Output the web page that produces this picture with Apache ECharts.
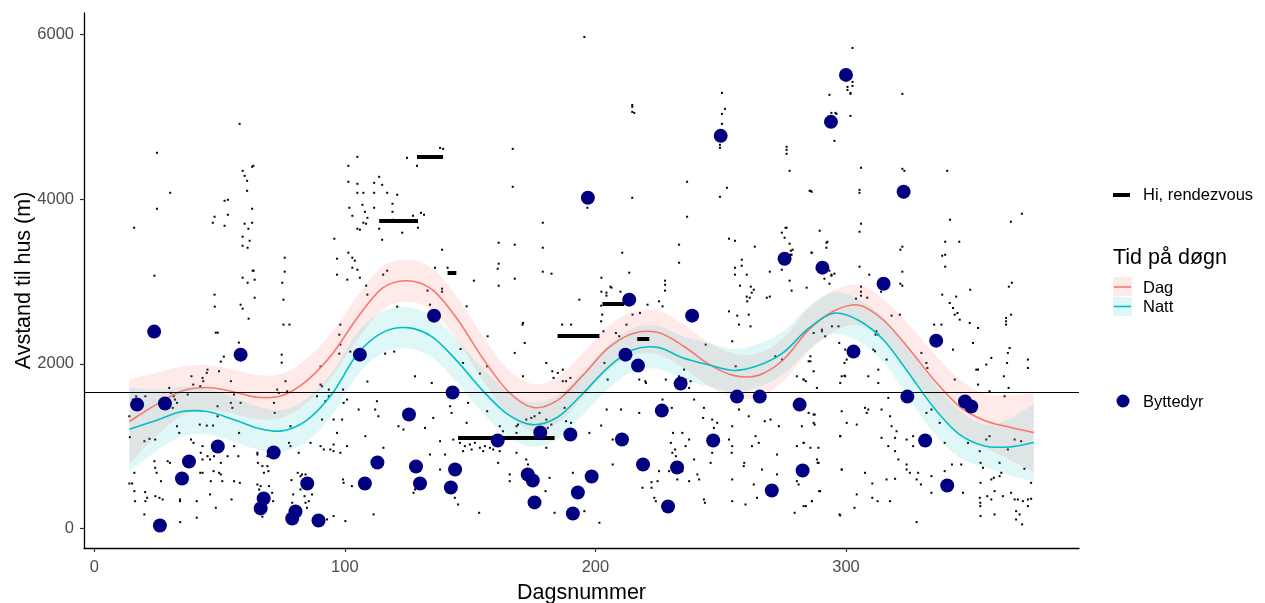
<!DOCTYPE html>
<html><head><meta charset="utf-8">
<script src="https://cdn.jsdelivr.net/npm/echarts@6/dist/echarts.min.js"></script>
<style>html,body{margin:0;padding:0;background:#fff}#c{width:1265px;height:603px}</style>
</head><body><div id="c"></div>
<script>
const xTicks = [0, 100, 200, 300];
const yTicks = [0, 2000, 4000, 6000];
const refLineY = 1650;

const smoothX  = [14,25,35,45,55,65,75,85,95,105,115,125,135,145,155,165,175,185,195,205,215,225,235,245,255,265,275,285,295,305,315,325,335,345,355,365,375];
const dagY     = [1300,1510,1670,1712,1665,1595,1615,1800,2120,2560,2920,3010,2900,2540,2070,1670,1470,1560,1860,2190,2370,2380,2220,2000,1860,1860,2050,2410,2640,2715,2530,2190,1810,1490,1315,1232,1165];
const nattY    = [1205,1315,1420,1420,1330,1220,1185,1320,1640,2120,2380,2440,2325,2027,1675,1386,1261,1354,1640,1955,2170,2200,2070,1990,1920,1980,2137,2430,2615,2530,2290,1890,1470,1150,1005,990,1045];
const dagHalf  = [515,380,300,275,268,268,268,268,268,268,262,255,255,262,268,270,285,280,268,265,265,265,265,265,265,265,265,262,250,245,255,290,320,330,325,390,478];
const nattHalf = [510,370,300,280,268,262,255,262,262,262,255,250,255,262,268,270,270,265,262,262,262,262,262,262,262,262,262,262,255,255,270,300,310,285,260,340,475];

// rendezvous segments: [xStart, xEnd, y]
const rendezvous = [[113.7,129.2,3740],[128.8,139.2,4515],[141,144.5,3105],[145.2,183.7,1100],[184.9,201.6,2340],[202.8,211.5,2730],[216.7,221.5,2305]];

const byttedyr = [[17.1,1505],[23.9,2392],[26.2,36],[28.2,1518],[35,607],[37.8,813],[49.3,995],[58.4,2112],[66.4,243],[67.6,364],[71.6,923],[79,121],[80.3,206],[85,546],[89.5,97],[106,2112],[108,546],[113,801],[125.6,1384],[128.4,753],[130,546],[135.6,2586],[142.3,498],[143,1651],[144,716],[161,1068],[173,656],[175,583],[175.7,316],[178,1165],[190,1141],[191,182],[193,437],[198.5,631],[197,4018],[210.6,1080],[213.5,2780],[212,2112],[217,1979],[219,777],[226.5,1432],[229,267],[232.6,740],[234,1760],[238.6,2586],[247,1068],[250,4771],[256.5,1602],[265.6,1602],[270.4,461],[275.5,3278],[281.5,1505],[282.7,704],[290.6,3169],[300,5512],[294,4941],[323,4091],[315,2974],[303,2149],[324.5,1602],[331.6,1068],[336,2282],[340.4,522],[347.5,1542],[350,1481]];

const dots = [
[15.9,3654],[25,4565],[30.3,4079],[25,3885],[24,3071],[48,2841],[58,4917],
[47.3,3715],[48,3788],[52,3678],[53.3,3812],[53.3,3994],[52,3982],
[59.2,4346],[60,4285],[61,4225],[63,4395],[63.5,4407],[61,4103],[63,3885],[60,3703],[61.5,3642],[63,3715],[59.2,3545],[62,3496],[61.2,3411],[59.2,3436],
[63.2,3132],[64,3023],[61.2,2986],[59.2,3047],[63.6,3132],[64,2804],[76,3290],[76,3120],[75,2986],
[95.8,3521],[96.9,3278],[96.9,3084],[101,3023],[101.4,4407],[101.4,4213],[105,4516],[105,4188],[105,4079],[107.4,4079],[101.8,3897],[103,3800],[107,3933],[108,3848],[106,3630],[105,3642],[107.4,3715],[111.7,4200],[114.9,4176],[111.7,4079],[113.7,4273],[116.9,4079],[111.7,3897],[113.7,3642],[114.9,3508],[109,3775],[108.5,3703],[119,3946],[119,3848],[120.9,4055],[101.4,3351],[103,3290],[104,3254],[105,3144],[103,3169],[106,3047],[108.5,2950],[109,2841],[115.3,3084],[116.9,3132],[119,3751],
[124.8,4504],[138,4625],[139.2,4613],[128.8,4407],[122.9,3594],[127.2,3800],[130.4,3836],[131.6,3812],[129.2,3654],
[195.6,5973],[214.7,5147],[214.7,5123],[215.5,5050],[214.7,5062],[167,4613],[167,4152],[179,3715],[179,3411],[179,3120],[182.5,3096],
[161.4,3472],[167.8,3448],[161.4,3217],[161,3156],[167.8,3035],[161.4,2950],[151.5,3011],[138.8,3387],[136,3168],[141,3168],[138.8,2914],[138.8,2877],[133,2890],
[214.7,4018],[196.8,3897],[210.7,3351],[213.5,3108],[202.4,3047],[206,2938],[206.4,2926],[202.4,2877],[204.4,2865],[204.4,2829],[210,2877],
[236.6,4213],[236.6,3788],[233.4,3448],[233.4,3229],[227.8,3011],[227.8,2962],[227.8,2890],
[250.5,5293],[251.7,5099],[250.5,5038],[250.5,4917],[249.7,4662],[249.7,4625],[252.5,4140],[249.7,4030],
[253.3,3521],[255.7,3496],[263.6,3424],[258.4,3266],[258.4,3193],[255.7,3168],[255.7,3084],[260.4,3084],[257.7,2950],[262,2938],[263.2,2901],[262.4,2865],[260.4,2817],[261.6,2804],[269.6,3120],[268.4,2804],[269.6,2817],
[276.3,4638],[276.3,4601],[276.3,4553],[277.5,4346],[285.5,4103],[286.3,4091],[293.4,5269],[295.4,4710],[294.2,5050],[295.8,5050],[296.2,5038],[300.6,5366],[300.6,5329],
[275.9,3654],[276.3,3654],[274.4,3594],[275.5,3533],[277.5,3460],[278,3375],[278.7,3387],[278,3326],[278.3,3326],[274.4,3144],[277.5,3011],[278.3,2890],[284.3,2926],[286.3,3351],[289.5,3618],[292.2,3472],[292.2,3411],[293.4,3132],[294.2,3071],[295.4,3096],[291.4,3035],[293.4,2974],
[302.6,5839],[302.6,5427],[302.6,5378],[301.8,5293],[301.8,5281],[301.8,5014],[322.5,5281],[306,4383],[322.5,4370],[323.3,4346],[340.4,4346],[285.9,4103],[305.4,4115],[305.4,4079],
[306,3703],[305.4,3606],[341.5,3751],[365.8,3727],[370.2,3824],[292.6,3484],[286.3,3351],[322.5,3424],[321.7,3387],[339.6,3484],[345.2,3484],[338.4,3314],[339.6,3326],[339.6,3181],[305.4,3181],[309.3,3084],[322.5,3120],[294.2,3084],
[306,2938],[306,2877],[306,2829],[304,2792],[308.5,2804],[314,2877],[321.7,2974],[322.5,2950],[338.4,2841],[344,2817],[349.6,2901],[365,2938],[366.2,2986],
[48.1,2695],[58.4,2719],[59.2,2671],[61.6,2549],[75.5,2477],[77.9,2477],[75.5,2780],[48.5,2379],[49.3,2379],[51.7,2088],[50.5,2027],[57.7,2258],[74.8,2112],[74.8,2015],[90.3,1967],[98.2,2477],[97.8,2355],[98.2,2234],[97.8,2124],[102.2,2149],[116.1,2124],[119.7,2149],[120.9,2695],[109,1785],
[18.4,1485],[16.7,1606],[15.4,1566],[14,1363],[14.2,1109],[20.4,1606],[20,1060],[22,1089],[24.3,1080],[29.9,1708],[30.6,1647],[31.7,1606],[32.2,1566],[33,1526],[31.3,1465],[33,1242],[33.9,1161],[38.8,1849],[37.3,1627],[39.5,1748],[42.3,1728],[43.2,1829],[43.5,1789],[45.2,1930],[44.9,1890],[49.8,1910],[54.5,1789],[55.8,1627],[54.5,1526],[55.1,1465],[58.4,1526],[49.2,1363],[57.8,1161],[49.2,1485],[42.1,1262],[44.9,1250],[47.4,1250],[38.6,1080],[39.6,1040],[42.5,919],[43.2,1000],[45.2,878],[43.2,838],[47.8,878],[50.5,797],[53.2,878],[55.8,1000],[57.5,878],[65.1,919],[69.1,878],[73,1687],[73.7,1647],[76.3,1789],[77,1667],[71.7,1526],[72,1404],[78.3,1242],[77.7,1040],[81.6,919],[78.3,1000],[86.3,1040],[90.3,1748],[90.9,1728],[88.9,1606],[93.6,1687],[93.6,1606],[92.2,1546],[90.9,1323],[95.5,1323],[99.5,1526],[98.9,1323],[96.9,1161],[90.3,1000],[91.6,959],[94.2,959],[95.5,939],[98.2,919],[100.9,1000],[95.5,1020],[99.3,1687],[100.9,1566],[105.5,1445],[112.8,1546],[112.1,1445],[113.4,1363],[108.2,1121],[115.4,980],[121.4,1242],
[14,546],[15.1,546],[16,676],[20.3,441],[21.1,372],[20.4,331],[16,453],[16.3,331],[20,170],[24,817],[24.3,737],[24.9,676],[26.6,574],[24.4,392],[26,372],[27.3,352],[29.3,817],[30.2,797],[34.2,352],[34.2,331],[34.3,77],[40.9,331],[40.9,130],[42.3,676],[43.2,676],[46.2,838],[46.5,574],[47.6,696],[46.2,413],[48.5,251],[49.8,676],[50.5,656],[51.1,574],[54.8,352],[55.8,574],[58.1,554],[65.1,898],[65.3,797],[65.1,534],[65.8,473],[67.1,757],[69.1,757],[69.5,696],[67.7,676],[69.7,514],[66.4,514],[71,433],[71.4,331],[65.1,271],[67.1,142],[78.7,587],[79.4,413],[81.2,676],[82.3,635],[82.9,656],[84.3,656],[82.9,574],[82.3,473],[83.9,392],[84.3,312],[85.6,331],[86.9,413],[79,312],[84.9,251],[92.9,109],[95.5,150],[100.2,89],[99.3,595],[102.8,514],[99.5,554],[111.5,170],
[134,2719],[148.6,2699],[128,1849],[134.7,1768],[146.2,2181],[147.2,2011],[153.9,1882],[156.8,1970],[157,2335],[171.1,2497],[170.9,2477],[167.8,2133],[171.8,2254],[171.1,1849],[180.4,2011],[182.8,1910],[183.3,1829],[185,1890],[187,1930],[187,1789],[188.3,1789],[190,1829],[186.7,2477],[190.3,2477],[193.6,2780],[202.3,2707],[202.7,2598],[202.3,2517],[203.2,2396],[208.2,2375],[209.5,2335],[212.4,2477],[214.8,2598],[217.8,2618],[220.8,2719],[226.8,2699],[225.4,2760],[203.6,2011],[204.9,1809],[217.5,1809],[219.9,1789],[228.1,1809],[233.4,1849],[235.4,1930],[236,1809],[238,1789],[237.4,1708],[244,2234],[254.6,2274],[261.2,2598],[256.6,2586],[257.3,2477],[261.9,2456],[260.6,2760],[253.3,2638],[274.5,2052],[271.8,2092],[280.4,1849],[283.1,1809],[285.1,2031],[287.1,2375],[290.4,2396],[291.7,2335],[299.7,2173],[300.3,2052],[299.7,1849],[256,1970],
[123.4,1202],[132,1222],[135.3,1343],[142,1485],[142.6,1404],[143.3,1080],[138,1060],[148.6,1283],[149.2,1526],[156.8,1424],[161.8,1242],[163.1,1181],[168.5,1242],[169.1,1262],[172.4,1323],[174.4,1343],[175.7,1363],[177.7,1404],[180.4,1323],[182.4,1262],[181,1222],[187.7,1465],[188.3,1303],[190.3,1283],[197.6,1161],[202.3,1250],[204.5,1445],[206.9,1080],[210.2,1445],[217.5,1404],[220.2,1768],[226.8,1566],[230.5,1465],[231,1161],[230.1,1040],[231.8,959],[234.7,1161],[236,1000],[237.4,1080],[239.4,1566],[243,1343],[243.3,1465],[246.6,1323],[247.3,1222],[248.6,1283],[253.3,1080],[257.3,1445],[254.6,1242],[261.2,1363],[263.9,1121],[265.2,1040],[267.6,1303],[269.9,1323],[266.5,1566],[273.2,1242],[285.1,1404],[287.1,1384],[287.1,1283],[280.4,1000],[283.1,1040],[289,980],[288.4,838],[297.7,1121],[300.3,1283],[254.6,1000],[262.5,1000],[246.6,919],
[145.9,1040],[147.9,1000],[149.9,1020],[151.9,1040],[153.9,980],[155.9,1000],[157.9,980],[159.8,1020],[161.8,939],[147.2,939],[150.6,959],[155.2,939],[159.2,959],[168.5,1161],[180.4,980],
[134,898],[140,898],[128,696],[128,473],[127.4,433],[145.2,291],[143.9,372],[138,716],[153.6,190],[161.2,797],[165.8,656],[165.8,574],[168.5,919],[172.4,838],[173.1,777],[180.1,453],[181.7,615],[183.7,190],[191,676],[195.6,210],[201.6,69],[206.9,777],[218.8,494],[222.4,562],[222.4,494],[223.5,372],[224.1,331],[224.8,574],[225.4,696],[229.4,696],[230.7,919],[232.1,878],[232.7,595],[234.7,696],[237.4,574],[239.4,838],[240.7,656],[241.4,595],[243.3,352],[243.7,312],[246,797],[254.4,919],[254.6,331],[259.9,291],[264.5,372],[263.2,534],[266.5,716],[272.5,656],[272.5,898],[280.4,574],[281.1,534],[279.5,190],[283.1,271],[286.4,331],[289.3,453],[288.7,797],[297.4,170],[298.3,716],[254.6,595],[259.2,757],[259.4,797],
[341.4,2740],[342.7,2679],[344.5,2618],[345.4,2537],[343.4,2598],[349.4,2497],[335.2,2477],[338.1,2477],[318.2,2586],[321.5,2598],[312.2,2396],[311.8,2355],[312.9,2355],[297,2456],[294.4,2456],[290.4,2416],[285.8,2092],[285.8,2031],[287.1,1910],[284,1789],[283.1,1809],[288.4,1708],[298.3,1849],[299.4,1857],[297.7,1768],[308.9,1849],[312.9,1930],[312.9,1768],[316.9,1586],[299.4,2011],[310.9,2173],[311.6,2153],[297.3,2254],[316.2,2052],[330.1,2133],[332.5,1950],[332.1,2011],[343.4,1809],[342.7,2173],[350.7,2254],[352.7,2436],[352,1930],[352.7,1930],[356,1991],[358,2072],[352.7,1748],[357.3,1667],[363.9,2558],[363.9,2517],[363.9,2477],[365.9,2598],[365.3,2193],[364.6,2133],[364.3,2011],[372.6,2052],[372.6,1950],[363,1849],[364.9,1708],[363.3,1606],
[282.4,1242],[283.1,1040],[285.8,980],[287.5,1384],[287.5,1262],[289.1,797],[297.7,1121],[298.3,716],[298.3,1424],[304.3,1262],[307.6,1465],[308.3,1404],[308.9,1445],[314.2,1445],[317.6,1363],[318.2,1242],[319.6,1101],[320.2,1181],[314.2,1101],[316.9,1000],[319.6,939],[320.9,838],[324.2,777],[324.2,716],[325.5,676],[324.2,1080],[326.8,1121],[326.8,1000],[328.8,676],[328.2,595],[329.9,534],[334.1,635],[332.1,1404],[334.1,1445],[339.4,1040],[342.3,777],[337.4,1283],[346,777],[348.7,1040],[353.4,939],[353.7,797],[356,1080],[357.3,1121],[354.7,737],[353.7,554],[358,595],[359,615],[361.3,797],[361.3,635],[362.6,392],[358,352],[353.4,372],[353.6,271],[353.7,150],[359.3,170],[365.9,433],[367.3,352],[368.6,352],[370.6,331],[372.6,352],[373.9,360],[372.6,271],[367.9,210],[369.3,170],[367.9,109],[370.3,49],[373.9,554],[371.2,725],[369.9,1060],[367.3,1080],[364.6,959],[284,271],[286.4,331],[289.7,453],[297.7,158],[303.4,251],[304.3,413],[307.6,676],[310.5,546],[310.5,372],[312.6,331],[316.2,595],[319.6,603],[317.6,331],[328.2,77],[334.1,433],[339.4,696],[346.7,433],[353.6,312],[356.4,392],[359.3,453],[362,676]
];

const FONT = 'Liberation Sans, Arial, sans-serif';
const DAG = '#F8766D', NATT = '#00BFC4', NAVY = '#000080';

// smooth path through screen points (Catmull-Rom -> cubic bezier)
function curve(pts, startWithMove) {
  let d = (startWithMove ? 'M' : 'L') + pts[0][0] + ',' + pts[0][1];
  for (let i = 0; i < pts.length - 1; i++) {
    const p0 = pts[i - 1] || pts[i], p1 = pts[i], p2 = pts[i + 1], p3 = pts[i + 2] || pts[i + 1];
    const c1x = p1[0] + (p2[0] - p0[0]) / 6, c1y = p1[1] + (p2[1] - p0[1]) / 6;
    const c2x = p2[0] - (p3[0] - p1[0]) / 6, c2y = p2[1] - (p3[1] - p1[1]) / 6;
    d += ' C' + c1x + ',' + c1y + ' ' + c2x + ',' + c2y + ' ' + p2[0] + ',' + p2[1];
  }
  return d;
}
function bandSeries(name, ys, half, color, op) {
  return {
    type: 'custom', name: name, silent: true, z: 2, data: [0],
    renderItem: function (params, api) {
      const up = smoothX.map((x, i) => api.coord([x, ys[i] + half[i]]));
      const lo = smoothX.map((x, i) => api.coord([x, ys[i] - half[i]])).reverse();
      const d = curve(up, true) + ' ' + curve(lo, false) + ' Z';
      return { type: 'path', shape: { pathData: d }, style: { fill: color, opacity: op } };
    }
  };
}
function lineSeries(name, ys, color) {
  return {
    type: 'custom', name: name, silent: true, z: 3, data: [0],
    renderItem: function (params, api) {
      const pts = smoothX.map((x, i) => api.coord([x, ys[i]]));
      return { type: 'path', shape: { pathData: curve(pts, true) }, style: { fill: null, stroke: color, lineWidth: 1.6 } };
    }
  };
}
const fmt = v => String(v);

const chart = echarts.init(document.getElementById('c'), null, { renderer: 'canvas' });
chart.setOption({
  animation: false,
  backgroundColor: '#fff',
  grid: { left: 84, right: 186, top: 13, bottom: 55, containLabel: false, outerBoundsMode: 'none' },
  xAxis: {
    type: 'value', min: -4.1, max: 393,
    name: 'Dagsnummer', nameLocation: 'middle', nameGap: 34, nameMoveOverlap: false,
    nameTextStyle: { fontFamily: FONT, fontSize: 21.5, color: '#000' },
    axisLine: { show: true, onZero: false, lineStyle: { color: '#000', width: 1.3 } },
    axisTick: { show: true, customValues: xTicks, length: 4, lineStyle: { color: '#333', width: 1.2 } },
    axisLabel: { customValues: xTicks, formatter: fmt, fontFamily: FONT, fontSize: 16.5, color: '#4D4D4D', margin: 11 },
    splitLine: { show: false }
  },
  yAxis: {
    type: 'value', min: -238, max: 6264,
    name: 'Avstand til hus (m)', nameLocation: 'middle', nameGap: 49, nameMoveOverlap: false,
    nameTextStyle: { fontFamily: FONT, fontSize: 21.5, color: '#000' },
    axisLine: { show: true, onZero: false, lineStyle: { color: '#000', width: 1.3 } },
    axisTick: { show: true, customValues: yTicks, length: 4, lineStyle: { color: '#333', width: 1.2 } },
    axisLabel: { customValues: yTicks, formatter: fmt, fontFamily: FONT, fontSize: 16.5, color: '#4D4D4D', margin: 10 },
    splitLine: { show: false }
  },
  series: [
    { type: 'scatter', name: 'obs', data: dots, symbol: 'rect', symbolSize: 2,
      itemStyle: { color: '#000', opacity: 1 }, silent: true, z: 1,
      markLine: { silent: true, symbol: 'none', label: { show: false },
        lineStyle: { color: '#000', width: 1, type: 'solid' }, data: [{ yAxis: refLineY }] } },
    bandSeries('dagBand', dagY, dagHalf, DAG, 0.15),
    bandSeries('nattBand', nattY, nattHalf, NATT, 0.12),
    lineSeries('Dag', dagY, DAG),
    lineSeries('Natt', nattY, NATT),
    { type: 'lines', name: 'Hi, rendezvous', coordinateSystem: 'cartesian2d', silent: true, z: 4,
      data: rendezvous.map(r => ({ coords: [[r[0], r[2]], [r[1], r[2]]] })),
      lineStyle: { color: '#000', width: 4, opacity: 1, curveness: 0 } },
    { type: 'scatter', name: 'Byttedyr', data: byttedyr, symbol: 'circle', symbolSize: 14,
      itemStyle: { color: NAVY, opacity: 1 }, z: 5 }
  ],
  graphic: [
    { type: 'rect', shape: { x: 1113, y: 193, width: 17, height: 4 }, style: { fill: '#000' } },
    { type: 'text', x: 1143, y: 195, style: { text: 'Hi, rendezvous', font: '16.5px ' + FONT, fill: '#000', textVerticalAlign: 'middle' } },
    { type: 'text', x: 1113, y: 258, style: { text: 'Tid på døgn', font: '21.5px ' + FONT, fill: '#000', textVerticalAlign: 'middle' } },
    { type: 'rect', shape: { x: 1113, y: 277, width: 19, height: 19 }, style: { fill: DAG, opacity: 0.15 } },
    { type: 'line', shape: { x1: 1114, y1: 287, x2: 1131, y2: 287 }, style: { stroke: DAG, lineWidth: 1.6 } },
    { type: 'text', x: 1143, y: 288, style: { text: 'Dag', font: '16.5px ' + FONT, fill: '#000', textVerticalAlign: 'middle' } },
    { type: 'rect', shape: { x: 1113, y: 297, width: 19, height: 19 }, style: { fill: NATT, opacity: 0.12 } },
    { type: 'line', shape: { x1: 1114, y1: 306.5, x2: 1131, y2: 306.5 }, style: { stroke: NATT, lineWidth: 1.6 } },
    { type: 'text', x: 1143, y: 307, style: { text: 'Natt', font: '16.5px ' + FONT, fill: '#000', textVerticalAlign: 'middle' } },
    { type: 'circle', shape: { cx: 1123, cy: 401, r: 6.5 }, style: { fill: NAVY } },
    { type: 'text', x: 1143, y: 402, style: { text: 'Byttedyr', font: '16.5px ' + FONT, fill: '#000', textVerticalAlign: 'middle' } }
  ]
});
</script>
</body></html>
